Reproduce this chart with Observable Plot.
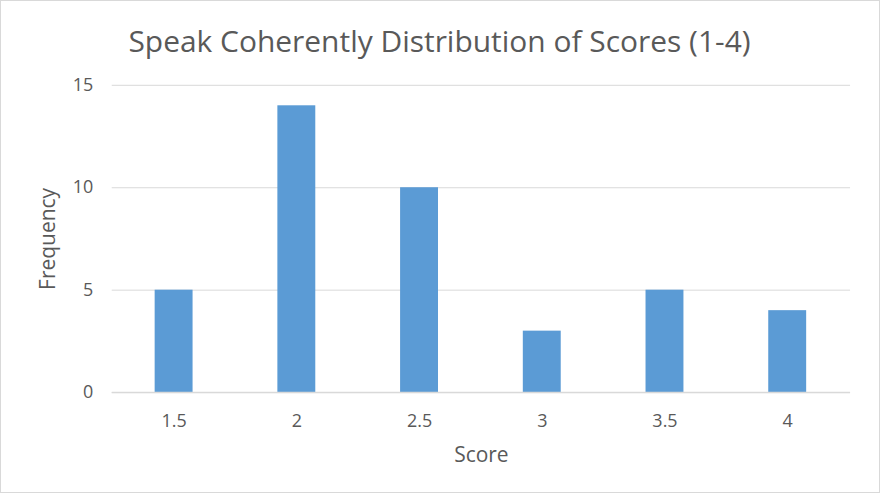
<!DOCTYPE html>
<html>
<head>
<meta charset="utf-8">
<script src="https://cdn.jsdelivr.net/npm/d3@7"></script>
<script src="https://cdn.jsdelivr.net/npm/@observablehq/plot@0.6"></script>
<style>
  html, body { margin: 0; padding: 0; background: #fff; }
  #chart { width: 878px; height: 491px; border: 1px solid #d9d9d9; overflow: hidden; position: relative; }
  #chart svg { position: absolute; left: -1px; top: -1px; }
</style>
</head>
<body>
<div id="chart"></div>
<script>
const title = "Speak Coherently Distribution of Scores (1-4)";
const scores = ["1.5", "2", "2.5", "3", "3.5", "4"];
const frequency = [5, 14, 10, 3, 5, 4];
const yTicks = [0, 5, 10, 15];
const xLabel = "Score";
const yLabel = "Frequency";

const data = scores.map((s, i) => ({score: s, freq: frequency[i]}));
const font = "'Open Sans', sans-serif";
const gray = "#595959";

const chart = Plot.plot({
  width: 880,
  height: 493,
  marginLeft: 112,
  marginRight: 28,
  marginTop: 85,
  marginBottom: 100,
  style: {fontFamily: font, color: gray, background: "transparent"},
  x: {domain: scores, paddingInner: 0.69, paddingOuter: 0.345, label: null},
  y: {domain: [0, 15], label: null},
  marks: [
    Plot.gridY(yTicks, {stroke: "#d9d9d9", strokeOpacity: 1, strokeWidth: 1}),
    Plot.barY(data, {x: "score", y: "freq", fill: "#5b9bd5"}),
    Plot.ruleY([0], {stroke: "#d9d9d9", strokeWidth: 1.5}),
    Plot.axisY(yTicks, {tickSize: 0, tickPadding: 19, fontSize: 18, fill: gray,
      label: yLabel, labelAnchor: "center", labelOffset: 72, labelArrow: "none"}),
    Plot.axisX({tickSize: 0, tickPadding: 22, fontSize: 18, fill: gray,
      label: xLabel, labelAnchor: "center", labelOffset: 70, labelArrow: "none"}),
    Plot.text([title], {frameAnchor: "top", lineAnchor: "middle", dy: -43, dx: -42, fontSize: 30, fill: gray, fontFamily: font})
  ]
});
chart.querySelectorAll("g[aria-label='y-axis label'] text, g[aria-label='x-axis label'] text").forEach(t => t.setAttribute("font-size", 21));
document.getElementById("chart").appendChild(chart);
</script>
</body>
</html>
